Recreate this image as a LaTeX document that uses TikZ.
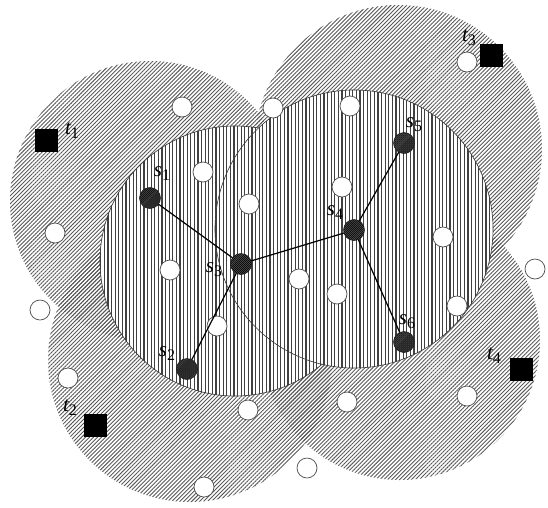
\documentclass[tikz,border=0pt]{standalone}
\usepackage{fontspec}
\newfontfamily\labfont{Liberation Serif}
\usetikzlibrary{patterns.meta}
\newcommand{\lbl}[2]{{\labfont\fontsize{21}{22}\selectfont\itshape #1}\raisebox{-4pt}{\labfont\fontsize{16}{16}\selectfont #2}}
\begin{document}
\begin{tikzpicture}[x=1pt,y=-1pt,
  bigzone/.style={pattern={Lines[angle=45,distance=2.8pt,line width=0.9pt]},pattern color=black!65},
  innerzone/.style={draw=black!80,line width=0.6pt,pattern={Lines[angle=90,distance=3.6pt,line width=1.3pt]},pattern color=black!75},
  freept/.style={circle,draw=black!70,fill=white,line width=0.7pt,minimum size=20pt,inner sep=0pt},
  snode/.style={circle,draw=black!90,line width=0.5pt,pattern={Lines[angle=45,distance=1.4pt,line width=0.5pt]},pattern color=black,minimum size=21pt,inner sep=0pt},
  sfill/.style={circle,fill=black!68,minimum size=21pt,inner sep=0pt},
  tnode/.style={rectangle,fill=black,minimum size=23pt,inner sep=0pt},
  lab/.style={inner sep=0pt},
  link/.style={line width=1.2pt,black}]
\useasboundingbox (0,0) rectangle (548,507);
% large hatched regions
\fill[white] (0,0) rectangle (548,507);
\path[bigzone] (150,201) circle[radius=140pt];
\path[bigzone] (190,360) circle[radius=142pt];
\path[bigzone] (398,149) circle[radius=144pt];
\path[bigzone] (400,340) circle[radius=140pt];
% inner regions
\fill[white] (235,261) circle[radius=135pt];
\path[innerzone] (235,261) circle[radius=135pt];
\fill[white] (354,229) circle[radius=139pt];
\path[innerzone] (354,229) circle[radius=139pt];
% free points
\foreach \n/\p in {a/{(182,107)},b/{(273,108)},c/{(350,106)},d/{(467,62)},e/{(203,172)},f/{(249,204)},g/{(342,187)},h/{(55,233)},i/{(170,270)},j/{(299,279)},k/{(337,294)},l/{(443,237)},m/{(40,310)},n/{(217,326)},o/{(457,306)},p/{(535,269)},q/{(68,378)},r/{(248,410)},s/{(347,402)},t/{(467,396)},u/{(307,468)},v/{(204,487)}}
  \node[freept] (w\n) at \p {};
% links
\coordinate (c1) at (150,198);
\coordinate (c2) at (187,369);
\coordinate (c3) at (241,264);
\coordinate (c4) at (354,230);
\coordinate (c5) at (404,143);
\coordinate (c6) at (404,342);
\draw[link] (c1) -- (c3);
\draw[link] (c2) -- (c3);
\draw[link] (c3) -- (c4);
\draw[link] (c4) -- (c5);
\draw[link] (c4) -- (c6);
% s nodes
\foreach \i in {1,...,6}{
  \node[sfill] at (c\i) {};
  \node[snode] (s\i) at (c\i) {};
}
\node[lab] (ls1) at (162,174) {\lbl{s}{1}};
\node[lab] (ls2) at (167,354) {\lbl{s}{2}};
\node[lab] (ls3) at (214,270) {\lbl{s}{3}};
\node[lab] (ls4) at (335,213) {\lbl{s}{4}};
\node[lab] (ls5) at (414,125) {\lbl{s}{5}};
\node[lab] (ls6) at (407,322) {\lbl{s}{6}};
% t nodes
\node[tnode] (t1) at (46,140) {};
\node[tnode] (t2) at (95,425) {};
\node[tnode] (t3) at (491,55) {};
\node[tnode] (t4) at (521,369) {};
\node[lab] (lt1) at (72,131) {\lbl{t}{1}};
\node[lab] (lt2) at (70,408) {\lbl{t}{2}};
\node[lab] (lt3) at (469,38) {\lbl{t}{3}};
\node[lab] (lt4) at (494,356) {\lbl{t}{4}};
\end{tikzpicture}
\end{document}
